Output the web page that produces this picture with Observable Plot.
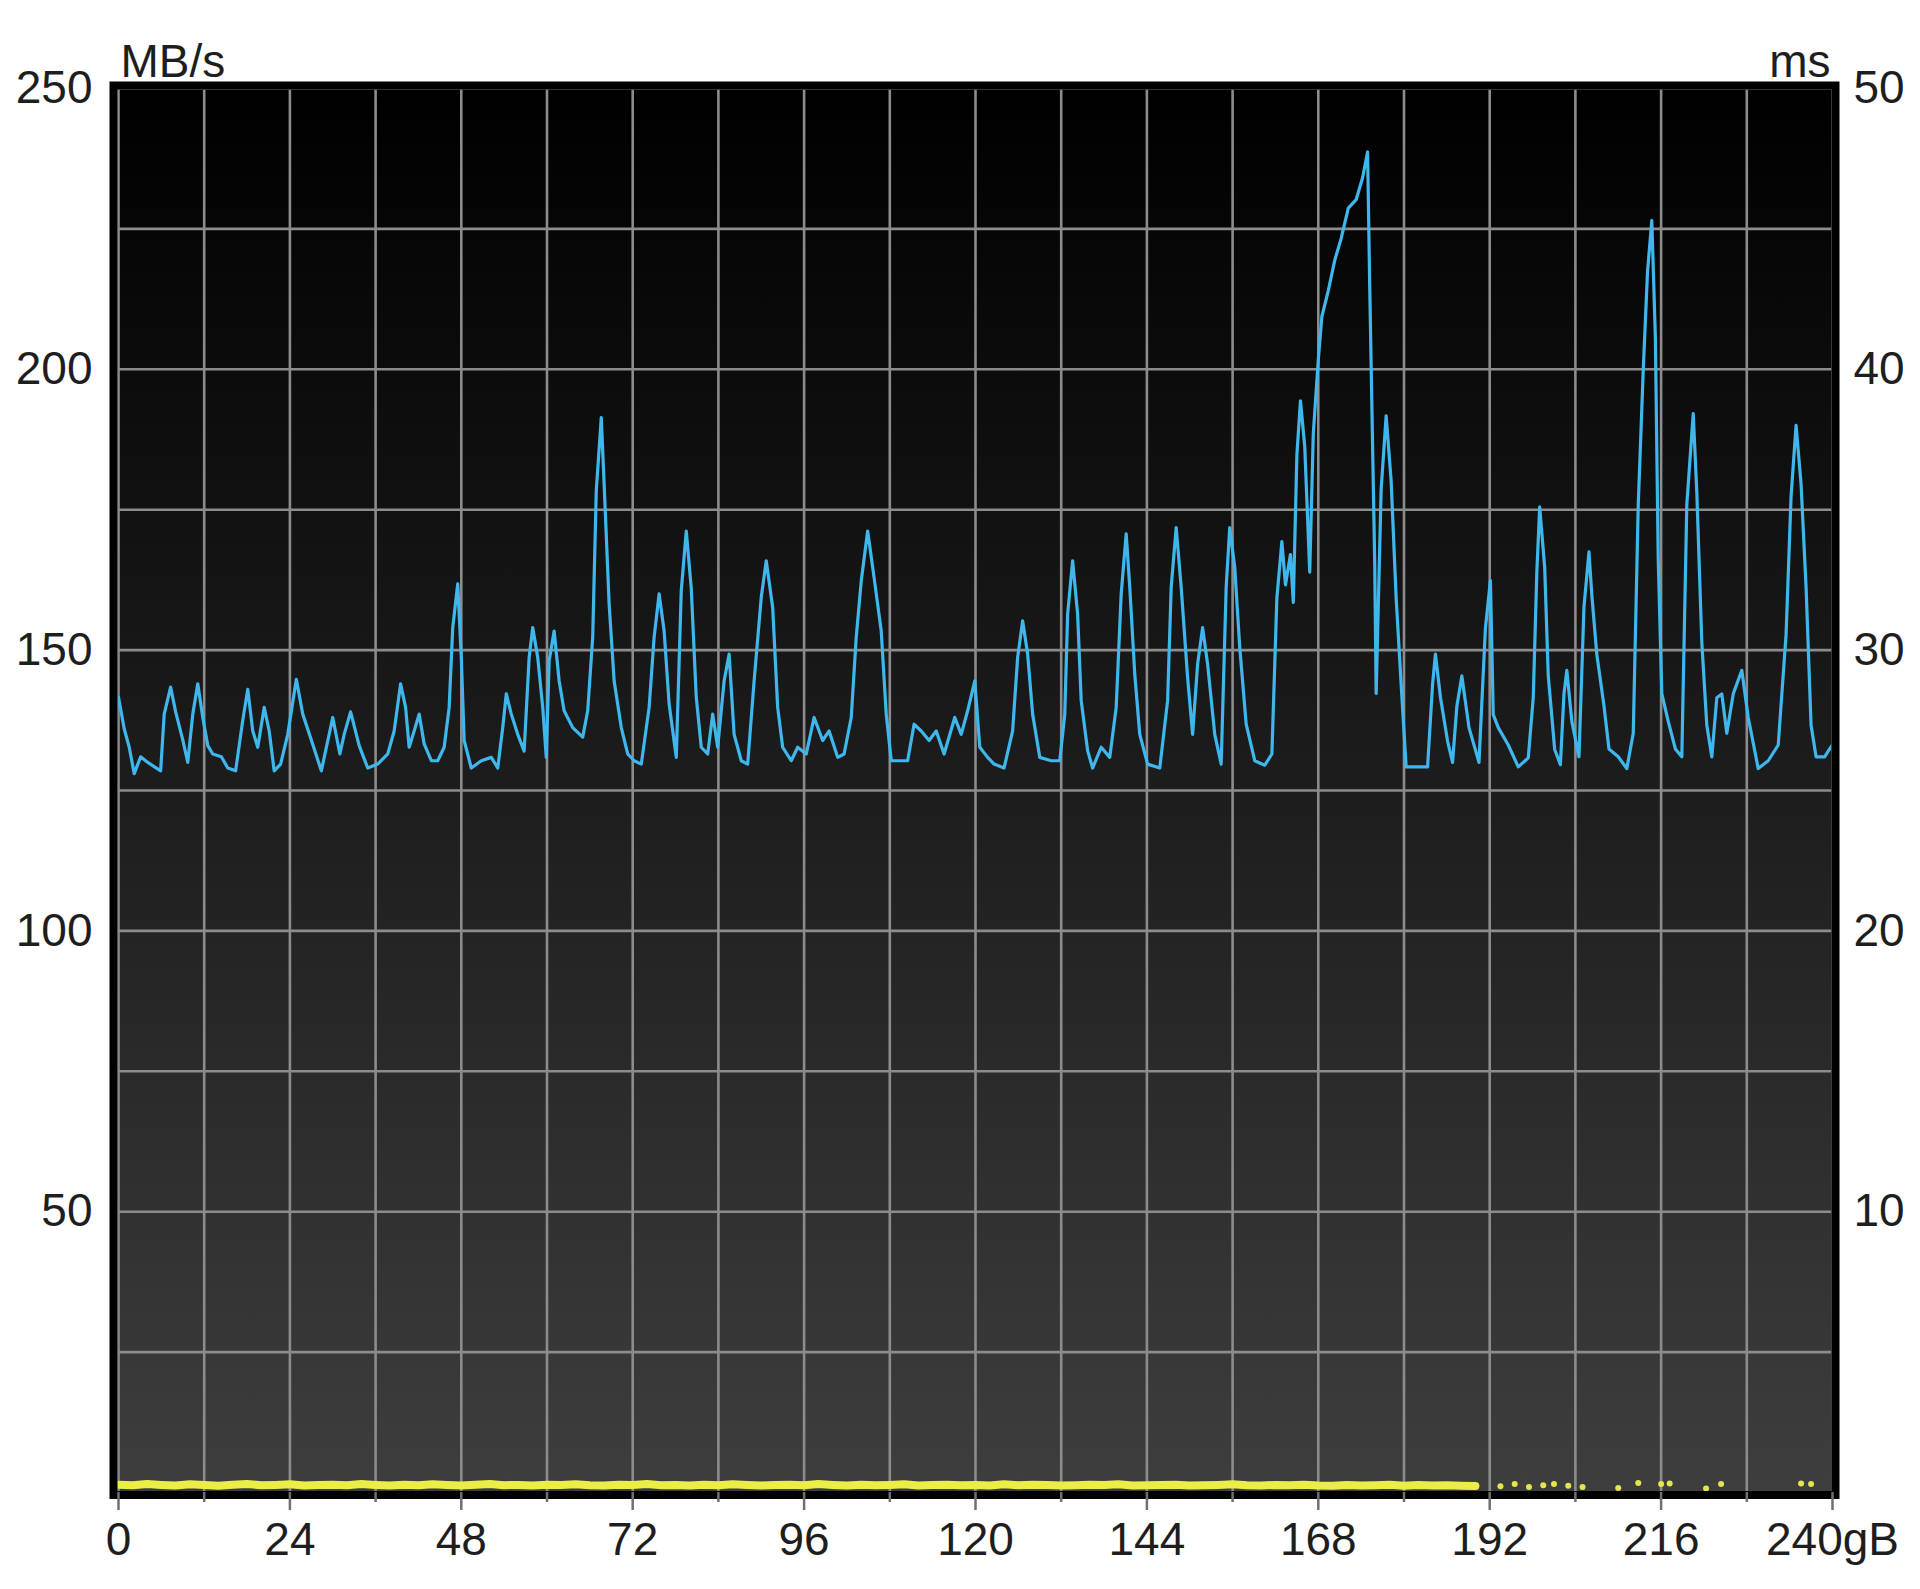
<!DOCTYPE html>
<html><head><meta charset="utf-8">
<script src="https://cdn.jsdelivr.net/npm/d3@7"></script>
<script src="https://cdn.jsdelivr.net/npm/@observablehq/plot@0.6"></script>
<style>
html,body{margin:0;padding:0;background:#fff;}
#chart{width:1920px;height:1589px;}
</style></head><body><div id="chart"></div>
<script>
// Transfer rate (MB/s) against position (gB)
const gb = [0,0.8,1.5,2.2,3.1,4.1,5.9,6.4,7.3,8.0,9.0,9.7,10.4,11.1,11.8,12.5,13.2,14.4,15.3,16.4,17.4,18.1,18.8,19.5,20.4,21.1,21.8,22.7,23.7,24.9,25.8,27.0,28.4,30.0,31.0,31.6,32.5,33.7,34.9,36.3,37.7,38.6,39.5,
40.2,40.7,41.4,42.1,42.8,43.8,44.7,45.6,46.3,46.8,47.5,48.0,48.4,49.4,50.8,52.2,53.1,53.8,54.3,55.0,55.9,56.8,57.5,58.0,58.7,59.4,59.9,60.3,61.0,61.7,62.4,63.6,65.0,65.7,66.4,66.9,67.6,68.0,68.7,69.4,70.4,71.3,72.2,73.2,74.3,75.0,75.7,76.4,77.1,78.1,78.8,79.5,80.2,
80.9,81.6,82.5,83.2,83.9,84.8,85.5,86.2,87.2,88.1,89.0,90.0,90.7,91.6,92.3,93.0,94.2,95.1,96.3,97.4,98.6,99.5,100.7,101.6,102.6,103.3,104.0,104.9,105.8,106.8,107.5,108.2,109.4,110.5,111.4,112.4,113.5,114.5,115.6,117.1,118.0,118.9,119.9,120.6,121.7,
122.6,124.0,125.2,125.9,126.6,127.3,128.0,129.0,130.6,131.8,132.5,132.9,133.6,134.3,134.8,135.7,136.4,137.6,138.8,139.7,140.4,141.1,141.6,142.3,143.0,144.1,145.8,146.9,147.4,148.1,148.8,149.7,150.4,151.1,151.8,152.5,153.5,154.4,155.1,155.6,156.3,157.0,157.9,159.1,160.5,
161.5,162.2,162.9,163.4,164.1,164.5,165.0,165.5,166.1,166.8,167.3,168.0,168.5,169.4,170.3,171.2,172.2,173.3,174.2,174.9,175.2,175.9,176.1,176.8,177.5,178.2,178.9,179.6,180.3,181.7,183.3,184.0,184.4,185.1,186.1,186.8,187.4,188.1,189.1,190.5,191.4,192.1,192.5,193.2,194.6,196.0,197.4,198.1,198.6,199.0,199.7,200.2,201.1,
201.9,202.4,202.8,203.5,204.5,205.2,205.9,206.3,207.0,208.0,208.7,210.0,211.2,212.1,212.8,213.5,214.1,214.7,215.2,215.6,216.1,217.0,218.0,218.9,219.6,220.5,221.0,221.7,222.4,223.1,223.8,224.5,225.2,226.1,227.3,228.2,229.6,231.0,232.4,233.5,234.2,234.9,235.6,236.3,237.0,237.7,238.9,239.6,240.0];
const mbs = [141.6,136,132.7,128,131,130,128.5,138.6,143.4,139,134,130,138.6,144,138,133,131.5,131,129,128.5,137.5,143,135.6,132.7,139.8,135.6,128.5,129.7,135,144.8,138.6,134,128.5,138,131.5,135,139,133,129,129.7,131.5,135.6,144,
139.8,132.7,135.6,138.6,133.3,130.3,130.3,132.7,139.8,154,161.8,148.7,133.9,129,130.3,130.9,129,136.2,142.2,138.6,135,132,148.7,154,148.7,139.8,130.9,148.1,153.4,144.5,139.2,136.2,134.5,139.2,152.3,178.4,191.4,179.6,158.2,144.5,136.2,131.5,130.3,129.7,139.8,152.3,160,153.4,140.4,130.9,160.6,171.2,161,
141.6,132.7,131.5,138.6,132.7,144.5,149.3,135,130.3,129.7,144.5,159.4,165.9,157.6,139.8,132.7,130.3,132.7,131.5,138,133.9,135.6,130.9,131.5,138,152.3,162.3,171.2,162.9,153.4,138.6,130.3,130.3,130.3,136.8,135.6,133.9,135.6,131.5,138,135,139.2,144.5,132.7,130.9,
129.7,129,135.6,148.7,155.2,149.3,138.6,130.9,130.3,130.3,138.6,156.4,165.9,156.4,141,132.1,129,132.7,130.9,139.8,160,170.7,161.2,145.7,135,129.7,129,141,161.2,171.8,161.2,145.1,135,147.5,154,147.5,135,129.7,161.2,171.8,164.7,150.5,136.8,130.3,129.5,
131.5,159.3,169.3,161.6,167,158.5,184.7,194.4,186.3,163.9,188.6,201.7,209.4,214,219.4,223.3,228.7,230.2,234.1,238.7,214.8,165.5,142.3,178.6,191.7,180.1,159.3,143.9,129.2,129.2,129.2,143.9,149.3,141.6,133.8,130,140,145.4,136.2,130,153.9,162.4,138.5,136.2,133.1,129.2,130.8,141.6,163.9,175.5,164.7,145.4,132.3,
129.6,142.2,146.4,137.3,131,157.7,167.5,159.8,149.2,140.1,132.4,131,128.9,135.2,175.9,199.9,217.4,226.5,205.5,166.1,142.2,137.3,132.4,131,175.9,192.1,178.1,151.4,136.6,131,141.5,142.2,135.2,142.2,146.4,138,128.9,130.3,133.1,152.8,177.4,190,179.5,161.2,136.6,131,131,132.4,133.1];

// Access time (ms): dense band, then isolated readings
const accessGb = [0,2,4,6,8,10,12,14,16,18,20,22,24,26,28,30,32,34,36,38,40,42,44,46,48,50,52,54,56,58,60,62,64,66,68,70,72,74,76,78,80,82,84,86,88,90,92,94,96,98,100,102,104,106,108,110,112,114,116,118,120,122,124,126,128,130,132,134,136,138,140,142,144,146,148,150,152,154,156,158,160,162,164,166,168,170,172,174,176,178,180,182,184,186,188,190];
const accessMs = [0.28,0.26,0.3,0.27,0.25,0.29,0.27,0.24,0.28,0.3,0.26,0.27,0.29,0.25,0.27,0.28,0.26,0.3,0.27,0.25,0.28,0.26,0.29,0.27,0.25,0.28,0.3,0.26,0.27,0.25,0.28,0.27,0.29,0.26,0.25,0.28,0.27,0.3,0.26,0.27,0.25,0.28,0.26,0.29,0.27,0.25,0.27,0.28,0.26,0.3,0.27,0.25,0.28,0.26,0.27,0.29,0.25,0.27,0.28,0.26,0.27,0.25,0.29,0.26,0.28,0.27,0.25,0.26,0.28,0.27,0.29,0.25,0.26,0.27,0.28,0.25,0.26,0.27,0.29,0.26,0.25,0.27,0.26,0.28,0.25,0.24,0.27,0.25,0.26,0.28,0.24,0.27,0.25,0.26,0.24,0.23];
const sparseGb = [193.5,195.5,197.5,199.5,201,203,205,210,212.8,216,217.2,222.3,224.4,235.6,237];
const sparseMs = [0.22,0.3,0.2,0.26,0.3,0.24,0.2,0.16,0.34,0.3,0.32,0.14,0.3,0.32,0.3];

const yTicks = [50,100,150,200,250];
const msLabels = ["10","20","30","40","50"];
const xTicks = [0,24,48,72,96,120,144,168,192,216,240];
const xMinor = [12,36,60,84,108,132,156,180,204,228];
const xGrid = [0,12,24,36,48,60,72,84,96,108,120,132,144,156,168,180,192,204,216,228,240];
const yGrid = [25,50,75,100,125,150,175,200,225,250];
const unitLeft = ["MB/s"];
const unitRight = ["ms"];

const rate = gb.map((x, i) => ({x, y: mbs[i]}));
const access = accessGb.map((x, i) => ({x, y: accessMs[i] * 5}));
const accessDots = sparseGb.map((x, i) => ({x, y: sparseMs[i] * 5}));

const svg = Plot.plot({
  width: 1920,
  height: 1589,
  marginLeft: 118,
  marginRight: 88,
  marginTop: 88,
  marginBottom: 97,
  x: {domain: [0, 240], axis: null},
  y: {domain: [0, 250], axis: null},
  style: {fontFamily: "'Liberation Sans', Arial, sans-serif", fontSize: "46px", color: "#1e1e1e", background: "transparent"},
  marks: [
    Plot.frame({fill: "url(#bgGrad)", stroke: null}),
    Plot.ruleX(xGrid, {stroke: "#8c8c8c", strokeWidth: 2.6}),
    Plot.ruleY(yGrid, {stroke: "#8c8c8c", strokeWidth: 2.6}),
    Plot.line(access, {x: "x", y: "y", stroke: "#ecee48", strokeWidth: 8}),
    Plot.dot(accessDots, {x: "x", y: "y", fill: "#e4e650", r: 3, stroke: null}),
    Plot.line(rate, {x: "x", y: "y", stroke: "#3fb7ec", strokeWidth: 3.2}),
    Plot.frame({stroke: "#000", strokeWidth: 8, insetLeft: -5, insetTop: -3, insetRight: -3, insetBottom: -2.5}),
    Plot.axisX(xTicks, {anchor: "bottom", label: null, tickSize: 18, tickPadding: 12, stroke: "#707070", strokeWidth: 2.5, fill: "#1e1e1e", fontSize: 46,
      tickFormat: d => d === 240 ? "240gB" : String(d)}),
    Plot.axisX(xMinor, {anchor: "bottom", label: null, tickSize: 10, stroke: "#707070", strokeWidth: 2.5, tickFormat: () => ""}),
    Plot.axisY(yTicks, {anchor: "left", label: null, tickSize: 0, tickPadding: 26, fill: "#1e1e1e", fontSize: 46}),
    Plot.axisY(yTicks, {anchor: "right", label: null, tickSize: 0, tickPadding: 21, fill: "#1e1e1e", fontSize: 46,
      tickFormat: d => msLabels[yTicks.indexOf(d)]}),
    Plot.text(unitLeft, {frameAnchor: "top-left", text: d => d, textAnchor: "start", lineAnchor: "bottom", dx: 2, dy: -12, fill: "#1e1e1e", fontSize: 46}),
    Plot.text(unitRight, {frameAnchor: "top-right", text: d => d, textAnchor: "end", lineAnchor: "bottom", dx: -2, dy: -12, fill: "#1e1e1e", fontSize: 46})
  ]
});

d3.select(svg).insert("defs", ":first-child").html(
  '<linearGradient id="bgGrad" x1="0" y1="0" x2="0" y2="1">' +
  '<stop offset="0" stop-color="#000000"/>' +
  '<stop offset="0.5" stop-color="#1d1d1d"/>' +
  '<stop offset="1" stop-color="#3e3e3e"/>' +
  '</linearGradient>');

document.getElementById("chart").appendChild(svg);
</script>
</body></html>
